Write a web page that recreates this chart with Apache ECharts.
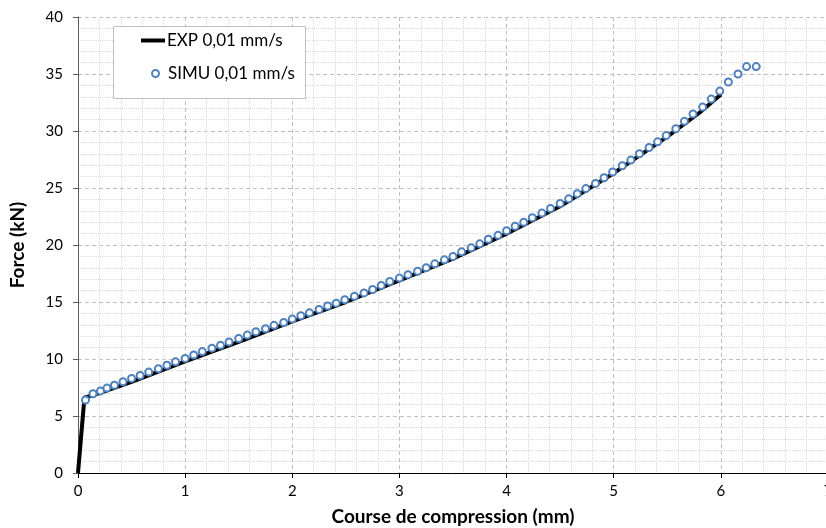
<!DOCTYPE html>
<html><head><meta charset="utf-8">
<script src="https://cdn.jsdelivr.net/npm/echarts@6/dist/echarts.min.js"></script>
<style>html,body{margin:0;padding:0;background:#fff}#c{width:826px;height:528px}</style>
</head><body><div id="c"></div>
<script>
const xTicks = [0, 1, 2, 3, 4, 5, 6, 7];
const yTicks = [0, 5, 10, 15, 20, 25, 30, 35, 40];
const expName = 'EXP 0,01 mm/s';
const simuName = 'SIMU 0,01 mm/s';
const expX = [0, 0.06, 0.2, 0.5, 1.0, 1.5, 2.0, 2.5, 3.0, 3.5, 4.0, 4.5, 5.0, 5.5, 5.8, 6.0];
const expY = [0, 6.6, 7.0, 8.0, 9.8, 11.5, 13.3, 15.0, 16.9, 18.8, 21.0, 23.4, 26.3, 29.5, 31.6, 33.2];
const simuX = [0.07,0.14,0.21,0.27,0.34,0.42,0.50,0.58,0.66,0.75,0.83,0.91,1.00,1.08,1.16,1.25,1.33,1.41,1.50,1.58,1.66,1.75,1.83,1.92,2.00,2.08,2.16,2.25,2.33,2.41,2.49,2.58,2.67,2.75,2.83,2.91,3.00,3.08,3.17,3.25,3.33,3.42,3.50,3.58,3.67,3.75,3.83,3.92,4.00,4.08,4.16,4.24,4.33,4.41,4.50,4.58,4.66,4.74,4.83,4.91,4.99,5.08,5.16,5.24,5.33,5.41,5.49,5.58,5.66,5.74,5.83,5.91,5.99,6.07,6.16,6.24,6.33];
const simuY = [6.4,6.95,7.2,7.45,7.7,8.0,8.3,8.55,8.85,9.15,9.45,9.75,10.05,10.35,10.65,10.95,11.2,11.5,11.8,12.1,12.4,12.65,12.95,13.2,13.5,13.8,14.05,14.35,14.65,14.9,15.2,15.5,15.8,16.1,16.45,16.8,17.1,17.4,17.7,18.0,18.35,18.7,19.0,19.4,19.75,20.1,20.5,20.85,21.25,21.65,22.0,22.4,22.8,23.2,23.65,24.05,24.5,24.95,25.4,25.9,26.4,26.95,27.45,28.0,28.55,29.05,29.6,30.2,30.85,31.5,32.1,32.8,33.5,34.3,35.0,35.65,35.65];

const FONT = 'Lato, "Open Sans", sans-serif';
const BLUE = '#4f81bd';
const chart = echarts.init(document.getElementById('c'), null, {renderer: 'canvas'});
chart.setOption({
  animation: false,
  grid: {left: 78, top: 17, width: 750, height: 456, containLabel: false, outerBoundsMode: 'none'},
  graphic: [{
    type: 'rect', left: 113, top: 26, z: 90,
    shape: {width: 192, height: 72},
    style: {fill: '#fff', stroke: '#bfbfbf', lineWidth: 1}
  }],
  legend: [{
    orient: 'vertical', left: 141, top: 32, padding: 0, itemGap: 0,
    itemWidth: 24, itemHeight: 4, z: 100,
    icon: 'rect',
    textStyle: {fontFamily: FONT, fontSize: 17, color: '#000', padding: [0,0,0,-3]},
    data: [{name: expName}]
  }, {
    orient: 'vertical', left: 151, top: 65, padding: 0, itemGap: 0,
    itemWidth: 7, itemHeight: 7, z: 100,
    itemStyle: {borderWidth: 1.6, opacity: 1},
    textStyle: {fontFamily: FONT, fontSize: 17, color: '#000', padding: [0,0,0,4]},
    data: [{name: simuName}]
  }],
  xAxis: {
    type: 'value', min: xTicks[0], max: xTicks[xTicks.length-1], interval: 1,
    name: 'Course de compression (mm)', nameLocation: 'middle', nameGap: 34,
    nameTextStyle: {fontFamily: FONT, fontSize: 19, fontWeight: 'bold', color: '#000'},
    axisLine: {show: true, lineStyle: {color: '#000', width: 1}},
    axisTick: {show: true, length: 5, lineStyle: {color: '#000'}},
    axisLabel: {fontFamily: FONT, fontSize: 15, color: '#000', margin: 11},
    splitLine: {show: true, lineStyle: {color: '#bfbfbf', type: [4, 3], width: 1}},
    minorTick: {show: false, splitNumber: 5},
    minorSplitLine: {show: true, lineStyle: {color: '#d9d9d9', type: [1, 1], width: 1}}
  },
  yAxis: {
    type: 'value', min: yTicks[0], max: yTicks[yTicks.length-1], interval: 5,
    name: 'Force (kN)', nameLocation: 'middle', nameGap: 51, nameRotate: 90,
    nameTextStyle: {fontFamily: FONT, fontSize: 19, fontWeight: 'bold', color: '#000'},
    axisLine: {show: true, lineStyle: {color: '#595959', width: 1}},
    axisTick: {show: true, length: 5, lineStyle: {color: '#595959'}},
    axisLabel: {fontFamily: FONT, fontSize: 15, color: '#000', margin: 15},
    splitLine: {show: true, lineStyle: {color: '#bfbfbf', type: [4, 3], width: 1}},
    minorTick: {show: false, splitNumber: 5},
    minorSplitLine: {show: true, lineStyle: {color: '#d9d9d9', type: [1, 1], width: 1}}
  },
  series: [
    {
      name: expName, type: 'line', symbol: 'none', smooth: false,
      data: expX.map((x, i) => [x, expY[i]]),
      lineStyle: {color: '#000', width: 4},
      itemStyle: {color: '#000'}, z: 2
    },
    {
      name: simuName, type: 'scatter', symbol: 'emptyCircle', symbolSize: 7,
      data: simuX.map((x, i) => [x, simuY[i]]),
      itemStyle: {color: BLUE, borderColor: BLUE, borderWidth: 3, opacity: 1},
      z: 3
    }
  ]
});
</script></body></html>
